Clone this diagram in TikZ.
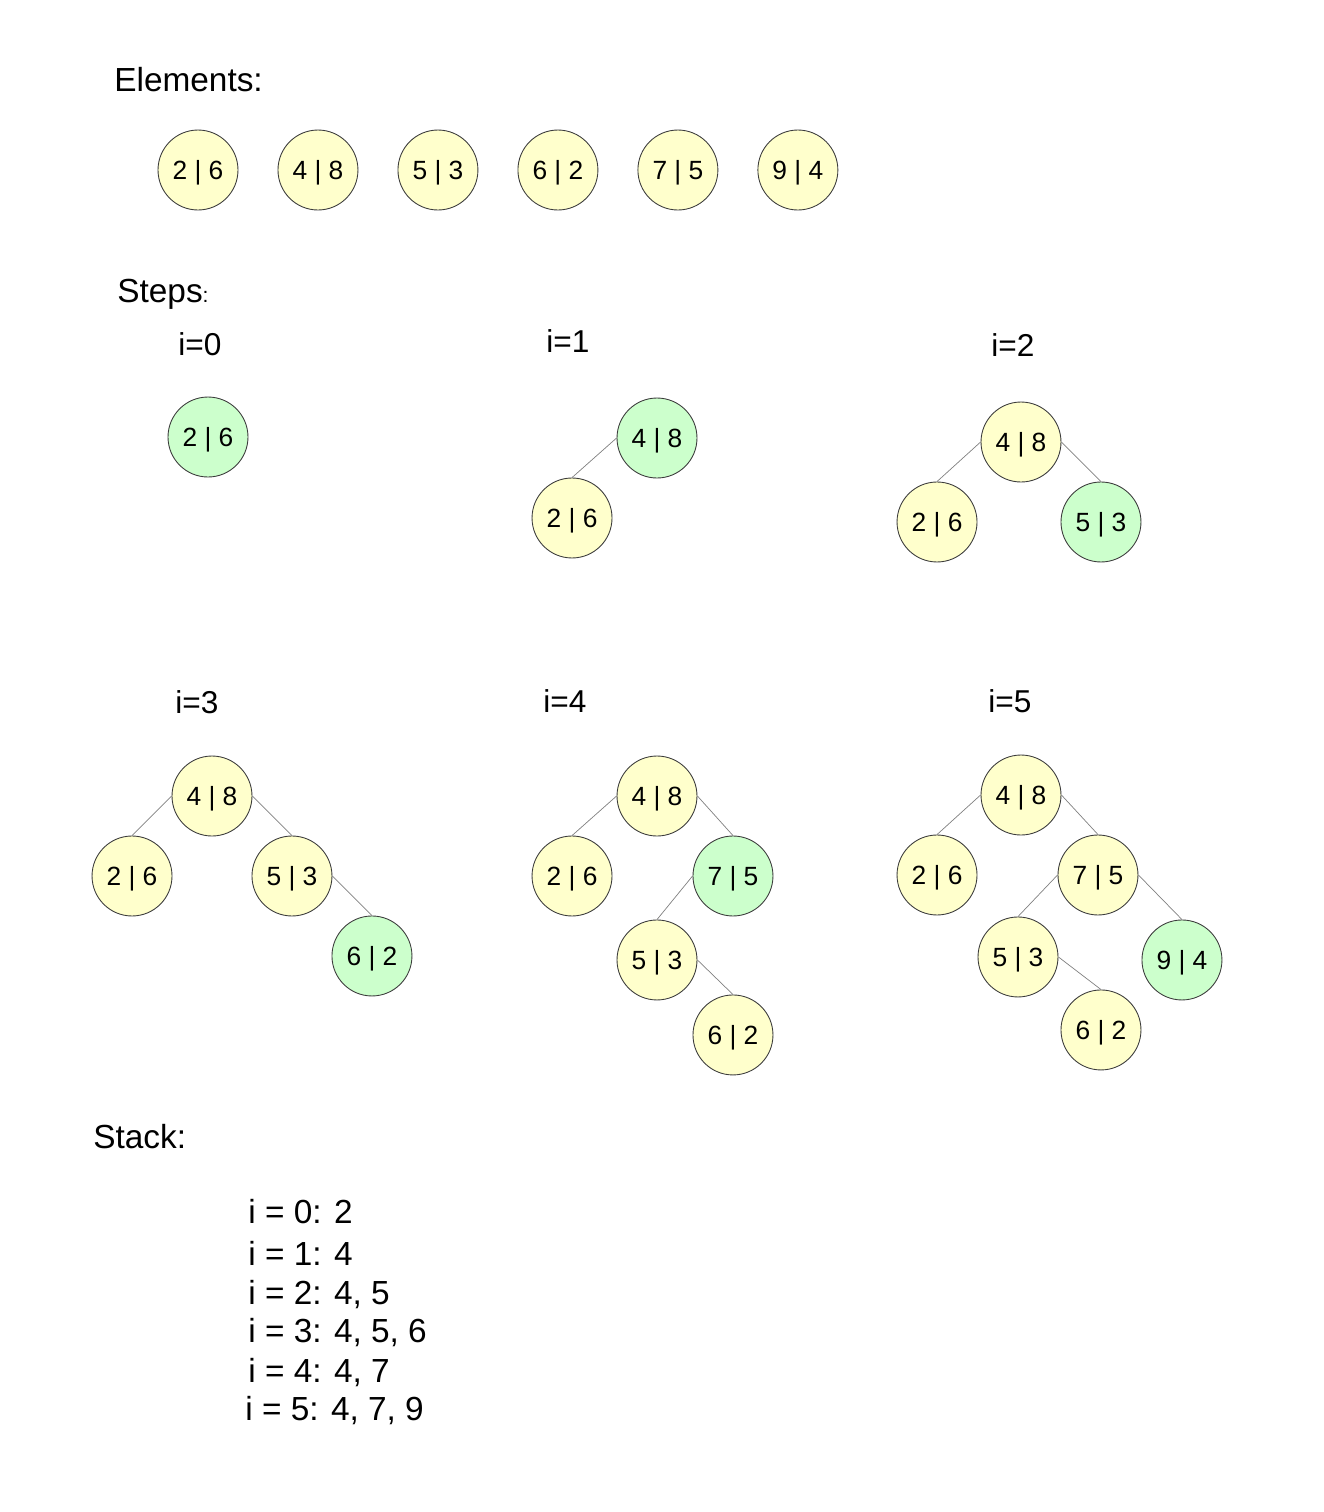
\documentclass[tikz,border=0pt]{standalone}
\usepackage{fontspec}
\setmainfont{Liberation Sans}
\usepackage{tikz}
\usetikzlibrary{positioning}
\definecolor{keyyellow}{RGB}{255, 255, 204}
\definecolor{newgreen}{RGB}{204, 255, 204}
\definecolor{rim}{RGB}{60, 60, 60}
\definecolor{linkgray}{RGB}{128, 128, 128}
\tikzset{
    keynode/.style = {circle, draw=rim, line width=0.5pt, fill=keyyellow, inner sep = 0em,
      minimum size=1.6cm, node distance=0em, text height=10.7pt, text depth=0pt,
      font=\fontsize{15}{17}\selectfont},
    newnode/.style = {keynode, fill=newgreen},
    titlenode/.style = {draw=none, fill=none, inner sep = 0em, anchor=base west,
      font=\fontsize{19}{23}\selectfont},
    stepnode/.style = {draw=none, fill=none, inner sep = 0em, anchor=base,
      font=\fontsize{18}{22}\selectfont},
    stacknode/.style = {draw=none, fill=none, inner sep = 0em, anchor=base west,
      font=\fontsize{19}{23}\selectfont},
    link/.style = {draw=linkgray, line width=0.4pt}
}

\begin{document}
\begin{tikzpicture}[x=0.02cm, y=-0.02cm]
\useasboundingbox (0,0) rectangle (1323,1512);

% elements
\node [name=elemtitle, titlenode] at (114,91) {Elements:};
\node [name=e1, keynode] at (198,170) {2 | 6};
\node [name=e2, keynode, right of = e1, xshift=2.4cm] {4 | 8};
\node [name=e3, keynode, right of = e2, xshift=2.4cm] {5 | 3};
\node [name=e4, keynode, right of = e3, xshift=2.4cm] {6 | 2};
\node [name=e5, keynode, right of = e4, xshift=2.4cm] {7 | 5};
\node [name=e6, keynode, right of = e5, xshift=2.4cm] {9 | 4};

% steps
\node [name=steptitle, titlenode] at (117,302) {Steps{\fontsize{12}{14}\selectfont:}};

% i=0
\node [name=s0, stepnode] at (200,355) {i=0};
\node [name=n0a, newnode] at (208,437) {2 | 6};

% i=1
\node [name=s1, stepnode] at (568,352) {i=1};
\node [name=n1a, newnode] at (657,438) {4 | 8};
\node [name=n1b, keynode, below of = n1a, xshift=-1.7cm, yshift=-1.6cm] {2 | 6};
\draw [link] (n1a.west) -- (n1b.north);

% i=2
\node [name=s2, stepnode] at (1013,356) {i=2};
\node [name=n2a, keynode] at (1021,442) {4 | 8};
\node [name=n2b, keynode, below of = n2a, xshift=-1.68cm, yshift=-1.6cm] {2 | 6};
\node [name=n2c, newnode, below of = n2a, xshift=1.6cm, yshift=-1.6cm] {5 | 3};
\draw [link] (n2a.west) -- (n2b.north);
\draw [link] (n2a.east) -- (n2c.north);

% i=3
\node [name=s3, stepnode] at (197,713) {i=3};
\node [name=n3a, keynode] at (212,796) {4 | 8};
\node [name=n3b, keynode, below of = n3a, xshift=-1.6cm, yshift=-1.6cm] {2 | 6};
\node [name=n3c, keynode, below of = n3a, xshift=1.6cm, yshift=-1.6cm] {5 | 3};
\node [name=n3d, newnode, below of = n3c, xshift=1.6cm, yshift=-1.6cm] {6 | 2};
\draw [link] (n3a.west) -- (n3b.north);
\draw [link] (n3a.east) -- (n3c.north);
\draw [link] (n3c.east) -- (n3d.north);

% i=4
\node [name=s4, stepnode] at (565,712) {i=4};
\node [name=n4a, keynode] at (657,796) {4 | 8};
\node [name=n4b, keynode, below of = n4a, xshift=-1.7cm, yshift=-1.6cm] {2 | 6};
\node [name=n4c, newnode, below of = n4a, xshift=1.52cm, yshift=-1.6cm] {7 | 5};
\node [name=n4d, keynode, below of = n4c, xshift=-1.52cm, yshift=-1.68cm] {5 | 3};
\node [name=n4e, keynode, below of = n4d, xshift=1.52cm, yshift=-1.5cm] {6 | 2};
\draw [link] (n4a.west) -- (n4b.north);
\draw [link] (n4a.east) -- (n4c.north);
\draw [link] (n4c.west) -- (n4d.north);
\draw [link] (n4d.east) -- (n4e.north);

% i=5
\node [name=s5, stepnode] at (1010,712) {i=5};
\node [name=n5a, keynode] at (1021,795) {4 | 8};
\node [name=n5b, keynode, below of = n5a, xshift=-1.68cm, yshift=-1.6cm] {2 | 6};
\node [name=n5c, keynode, below of = n5a, xshift=1.54cm, yshift=-1.6cm] {7 | 5};
\node [name=n5d, keynode, below of = n5c, xshift=-1.6cm, yshift=-1.64cm] {5 | 3};
\node [name=n5e, newnode, below of = n5c, xshift=1.68cm, yshift=-1.7cm] {9 | 4};
\node [name=n5f, keynode, below of = n5d, xshift=1.66cm, yshift=-1.46cm] {6 | 2};
\draw [link] (n5a.west) -- (n5b.north);
\draw [link] (n5a.east) -- (n5c.north);
\draw [link] (n5c.west) -- (n5d.north);
\draw [link] (n5c.east) -- (n5e.north);
\draw [link] (n5d.east) -- (n5f.north);

% stack
\node [name=stacktitle, titlenode] at (93,1148) {Stack:};
\node [name=st0, stacknode] at (248,1223) {i = 0: 2};
\node [name=st1, stacknode] at (248,1265) {i = 1: 4};
\node [name=st2, stacknode] at (248,1304) {i = 2: 4, 5};
\node [name=st3, stacknode] at (248,1342) {i = 3: 4, 5, 6};
\node [name=st4, stacknode] at (248,1382) {i = 4: 4, 7};
\node [name=st5, stacknode] at (245,1420) {i = 5: 4, 7, 9};
\end{tikzpicture}
\end{document}
